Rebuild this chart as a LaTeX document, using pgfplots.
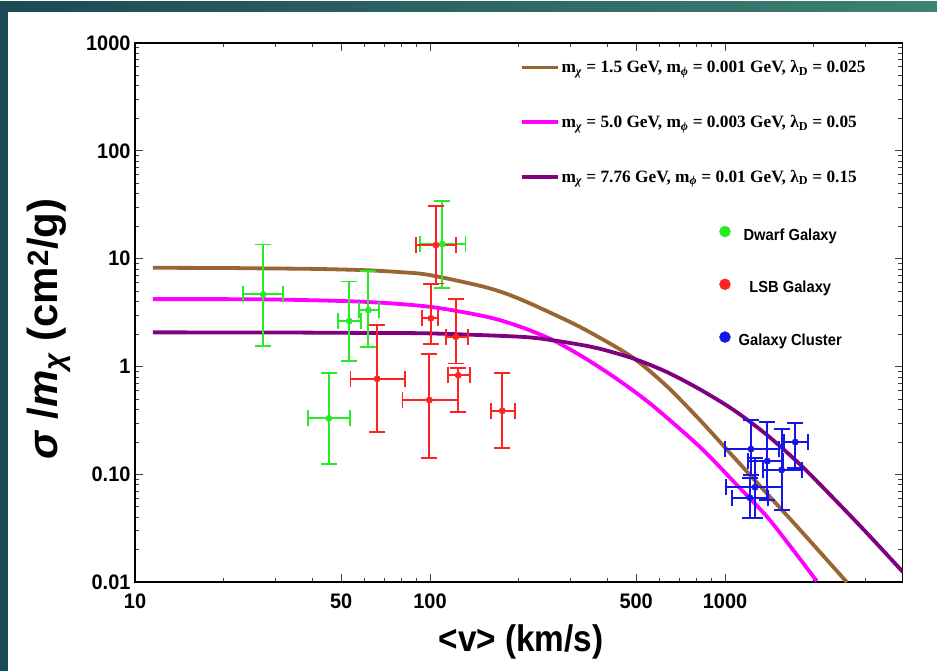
\documentclass[border=0pt]{standalone}
\usepackage{fontspec}
\setmainfont{Liberation Sans}
\newfontfamily\tickfont[FakeStretch=0.95]{Liberation Sans}
\newfontfamily\labfont[FakeStretch=0.9]{Liberation Sans}
\newfontfamily\legsans[FakeStretch=0.92]{Liberation Sans}
\newfontfamily\legserif{Liberation Serif}
\usepackage{pgfplots}
\pgfplotsset{compat=1.18}
\definecolor{mbrown}{RGB}{153,102,51}
\definecolor{mpurple}{RGB}{128,0,128}
\definecolor{mmagenta}{RGB}{255,0,255}
\definecolor{dgreen}{RGB}{40,235,40}
\definecolor{lred}{RGB}{255,35,35}
\definecolor{cblue}{RGB}{20,20,235}
\definecolor{tealdark}{HTML}{1B4A56}
\definecolor{teallight}{HTML}{3F8172}
\pgfplotsset{
  errstyle/.style={only marks, mark=*, mark size=3.2pt, forget plot,
    error bars/.cd, x dir=both, x explicit, y dir=both, y explicit,
    error bar style={line width=1.8pt},
    error mark options={rotate=90, mark size=8pt, line width=1.8pt}},
}

\begin{document}
\begin{tikzpicture}[x=1pt,y=1pt]
\useasboundingbox (0,0) rectangle (937,671);
\fill[white] (0,0) rectangle (937,671);
\shade[left color=tealdark, right color=teallight] (0,659) rectangle (937,669.5);
\fill[tealdark] (0,0) rectangle (8,669.5);

\begin{axis}[
  at={(135pt,88.7pt)}, anchor=south west,
  scale only axis, width=767.6pt, height=539.3pt,
  xmode=log, ymode=log,
  xmin=10, xmax=4000, ymin=0.01, ymax=1000,
  xtick={10,50,100,500,1000},
  xticklabels={10,50,100,500,1000},
  minor xtick={20,30,40,60,70,80,90,200,300,400,600,700,800,900,2000,3000,4000},
  ytick={0.01,0.1,1,10,100,1000},
  yticklabels={0.01,0.10,1,10,100,1000},
  minor ytick={0.02,0.03,0.04,0.05,0.06,0.07,0.08,0.09,
    0.2,0.3,0.4,0.5,0.6,0.7,0.8,0.9,2,3,4,5,6,7,8,9,
    20,30,40,50,60,70,80,90,200,300,400,500,600,700,800,900},
  tick align=inside,
  major tick length=8pt, minor tick length=4.5pt,
  every tick/.style={black!75, line width=0.9pt},
  axis line style={line width=1.6pt},
  tick label style={font=\tickfont\bfseries\fontsize{21}{21}\selectfont},
  xticklabel style={yshift=-8pt},
  yticklabel style={xshift=-1pt},
  xlabel={<v> (km/s)},
  ylabel={{\itshape σ} /{\itshape m}\textsubscript{\itshape χ} (cm\textsuperscript{2}/g)},
  xlabel style={font=\labfont\bfseries\fontsize{37}{37}\selectfont,
    at={(axis description cs:0.503,-0.11)}, anchor=center},
  ylabel style={font=\bfseries\fontsize{42}{42}\selectfont,
    at={(axis description cs:-0.112,0.47)}, anchor=center, rotate=0},
  legend style={at={(axis description cs:0.497,0.975)}, anchor=north west,
    draw=none, fill=none, row sep=37pt,
    font=\legserif\bfseries\fontsize{17.3}{17.3}\selectfont},
  legend cell align=left,
  legend image code/.code={\draw[#1, line width=3.8pt] (0pt,0pt) -- (36pt,0pt);},
]
\addplot[mbrown, line width=3.8pt, smooth] coordinates {
  (11.5,8.24) (20,8.2) (27.2,8.13) (40,8.05) (59.4,7.84) (80,7.5) (100,7.05)
  (155.6,5.41) (202,4.22) (298.5,2.59) (377,1.846) (489,1.202) (634,0.661)
  (822,0.3196) (1067,0.1462) (1383,0.0671) (1795,0.0307) (2590,0.01)};
\addlegendentry{m\textsubscript{\itshape χ} = 1.5 GeV, m\textsubscript{\itshape ϕ} = 0.001 GeV, λ\textsubscript{D} = 0.025}
\addplot[mmagenta, line width=3.8pt, smooth] coordinates {
  (11.5,4.22) (27.2,4.2) (59.3,3.99) (100,3.58) (155.6,2.895) (202,2.344)
  (261.6,1.754) (339.6,1.171) (440,0.735) (571,0.4305) (822,0.18) (1067,0.0865)
  (1383,0.041) (1682,0.0208) (2047,0.01026)};
\addlegendentry{m\textsubscript{\itshape χ} = 5.0 GeV, m\textsubscript{\itshape ϕ} = 0.003 GeV, λ\textsubscript{D} = 0.05}
\addplot[mpurple, line width=3.8pt, smooth] coordinates {
  (11.5,2.075) (30,2.07) (60,2.05) (100,2.03) (202,1.89) (261.6,1.751)
  (339.6,1.557) (377,1.463) (489,1.188) (634,0.892) (822,0.615) (1067,0.398)
  (1383,0.234) (1795,0.124) (2328,0.0605) (3020,0.0288) (3918,0.01335) (4000,0.01256)};
\addlegendentry{m\textsubscript{\itshape χ} = 7.76 GeV, m\textsubscript{\itshape ϕ} = 0.01 GeV, λ\textsubscript{D} = 0.15}

% dwarf galaxies
\addplot[dgreen, errstyle] coordinates {
  (27.2,4.67) += (4.6,8.9) -= (3.9,3.11)
  (53.3,2.64) += (4.9,3.52) -= (4.4,1.515)
  (61.8,3.34) += (5.2,4.39) -= (4.4,1.83)
  (45.4,0.331) += (8.2,0.545) -= (6.8,0.207)
  (110.1,13.66) += (21.8,20.54) -= (17.6,8.29)
  };
% LSB galaxies
\addplot[lred, errstyle] coordinates {
  (66.2,0.771) += (16.2,1.669) -= (12.4,0.524)
  (104.7,13.37) += (17.7,17.33) -= (15.3,7.47)
  (100.7,2.80) += (5.5,2.98) -= (6.7,1.17)
  (99.5,0.489) += (25.5,0.821) -= (18.8,0.346)
  (122.4,1.89) += (11.8,2.31) -= (9.2,0.82)
  (124.7,0.829) += (11.6,0.146) -= (9.9,0.448)
  (175.8,0.389) += (18.4,0.476) -= (15.2,0.2144)
  };
% galaxy clusters
\addplot[cblue, errstyle] coordinates {
  (1225,0.172) += (303,0.147) -= (225,0.0733)
  (1391,0.133) += (185,0.175) -= (192,0.0751)
  (1731,0.1997) += (175,0.1013) -= (142,0.0847)
  (1556,0.110) += (272,0.152) -= (207,0.0635)
  (1264,0.076) += (292,0.067) -= (256,0.0363)
  (1215,0.0608) += (187,0.0312) -= (157,0.0211)
  };
\end{axis}

\begin{axis}[
  at={(135pt,88.7pt)}, anchor=south west,
  scale only axis, width=767.6pt, height=539.3pt,
  hide axis, xmin=0, xmax=1, ymin=0, ymax=1,
  legend style={at={(axis description cs:0.757,0.665)}, anchor=north west,
    draw=none, fill=none, row sep=35pt, column sep=6pt,
    font=\legsans\bfseries\fontsize{16}{16}\selectfont},
  legend cell align=center,
  legend image code/.code={\fill[#1] (0pt,0.35em) circle (5.5pt);},
]
\addlegendimage{dgreen}
\addlegendentry{Dwarf Galaxy}
\addlegendimage{lred}
\addlegendentry{LSB Galaxy}
\addlegendimage{cblue}
\addlegendentry{Galaxy Cluster}
\end{axis}
\end{tikzpicture}
\end{document}
